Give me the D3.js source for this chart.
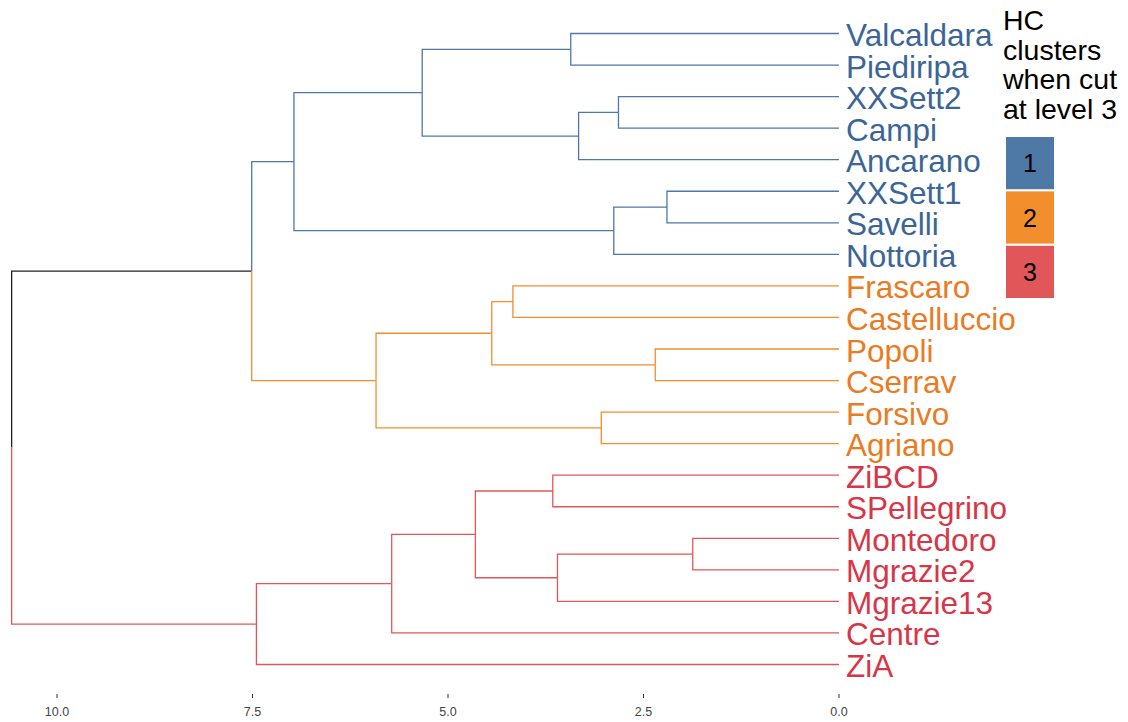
<!DOCTYPE html>
<html>
<head>
<meta charset="utf-8">
<script src="https://cdn.jsdelivr.net/npm/d3@7"></script>
<style>
  body { margin: 0; background: #fff; }
  svg { font-family: "Liberation Sans", Arial, sans-serif; }
</style>
</head>
<body>
<svg id="viz" width="1128" height="722"></svg>
<script>
// leaves, top to bottom
const leaves = ["Valcaldara", "Piediripa", "XXSett2", "Campi", "Ancarano", "XXSett1", "Savelli", "Nottoria",
  "Frascaro", "Castelluccio", "Popoli", "Cserrav", "Forsivo", "Agriano",
  "ZiBCD", "SPellegrino", "Montedoro", "Mgrazie2", "Mgrazie13", "Centre", "ZiA"];
const clusters = [1, 1, 1, 1, 1, 1, 1, 1, 2, 2, 2, 2, 2, 2, 3, 3, 3, 3, 3, 3, 3];

// hclust style merges: negative = leaf (1-based index in leaves), positive = earlier merge row
const merges = [
  [-17, -18], [-6, -7], [-11, -12], [-3, -4], [2, -8], [-13, -14], [4, -5],
  [-1, -2], [1, -19], [-15, -16], [-9, -10], [11, 3], [10, 9], [8, 7],
  [13, -20], [12, 6], [14, 5], [15, -21], [17, 16], [19, 18]
];
const heights = [1.87, 2.20, 2.35, 2.82, 2.88, 3.04, 3.33, 3.43, 3.60, 3.66,
  4.17, 4.44, 4.65, 5.33, 5.72, 5.92, 6.97, 7.45, 7.51, 10.58];

const legendTitle = ["HC", "clusters", "when cut", "at level 3"];
const clusterIds = [1, 2, 3];
const ticks = [10, 7.5, 5, 2.5, 0];

const lineColor = {1: "#4E79A7", 2: "#F28E2B", 3: "#E15759"};
const textColor = {1: "#3B6597", 2: "#EA7B22", 3: "#D73648"};

const svg = d3.select("#viz");

const x = d3.scaleLinear().domain([0, 10]).range([839, 57]);
const y = d3.scalePoint().domain(leaves).range([33.5, 664.5]);

// build nodes
function leafNode(i) {
  return {name: leaves[i], h: 0, y: y(leaves[i]), cl: clusters[i]};
}
const nodes = [];
merges.forEach((m, i) => {
  const kids = m.map(k => k < 0 ? leafNode(-k - 1) : nodes[k - 1]);
  const cl = kids[0].cl === kids[1].cl ? kids[0].cl : null;
  nodes.push({children: kids, h: heights[i], y: (kids[0].y + kids[1].y) / 2, cl: cl});
});
const root = d3.hierarchy(nodes[nodes.length - 1]);

const g = svg.append("g");
root.each(d => {
  if (!d.children) return;
  d.children.forEach(c => {
    const col = c.data.cl ? lineColor[c.data.cl] : "#222";
    g.append("path")
      .attr("d", `M${x(d.data.h)},${d.data.y}V${c.data.y}H${x(c.data.h)}`)
      .attr("fill", "none")
      .attr("stroke", col)
      .attr("stroke-width", 1.3);
  });
});

// leaf labels
svg.selectAll(".label")
  .data(leaves)
  .enter()
  .append("text")
  .attr("class", "label")
  .attr("x", 846)
  .attr("y", d => y(d) + 12.5)
  .style("font-size", "31.5px")
  .style("fill", (d, i) => textColor[clusters[i]])
  .text(d => d);

// axis
const axis = svg.append("g");
axis.selectAll("line")
  .data(ticks)
  .enter()
  .append("line")
  .attr("x1", d => x(d)).attr("x2", d => x(d))
  .attr("y1", 694).attr("y2", 698)
  .attr("stroke", "#333").attr("stroke-width", 1);
axis.selectAll("text")
  .data(ticks)
  .enter()
  .append("text")
  .attr("x", d => x(d))
  .attr("y", 716)
  .attr("text-anchor", "middle")
  .style("font-size", "12.5px")
  .style("fill", "#444")
  .text(d => d3.format(".1f")(d));

// legend
const leg = svg.append("g");
leg.selectAll("text.title")
  .data(legendTitle)
  .enter()
  .append("text")
  .attr("class", "title")
  .attr("x", 1003)
  .attr("y", (d, i) => 30 + i * 29.7)
  .style("font-size", "28.5px")
  .style("fill", "#000")
  .text(d => d);

const ly = d3.scaleBand().domain(clusterIds).range([137, 298]).paddingInner(0.04);
leg.selectAll("rect")
  .data(clusterIds)
  .enter()
  .append("rect")
  .attr("x", 1006)
  .attr("y", d => ly(d))
  .attr("width", 48)
  .attr("height", ly.bandwidth())
  .attr("fill", d => lineColor[d]);
leg.selectAll("text.key")
  .data(clusterIds)
  .enter()
  .append("text")
  .attr("class", "key")
  .attr("x", 1030)
  .attr("y", d => ly(d) + ly.bandwidth() / 2 + 9)
  .attr("text-anchor", "middle")
  .style("font-size", "25px")
  .style("fill", "#000")
  .text(d => d);
</script>
</body>
</html>
